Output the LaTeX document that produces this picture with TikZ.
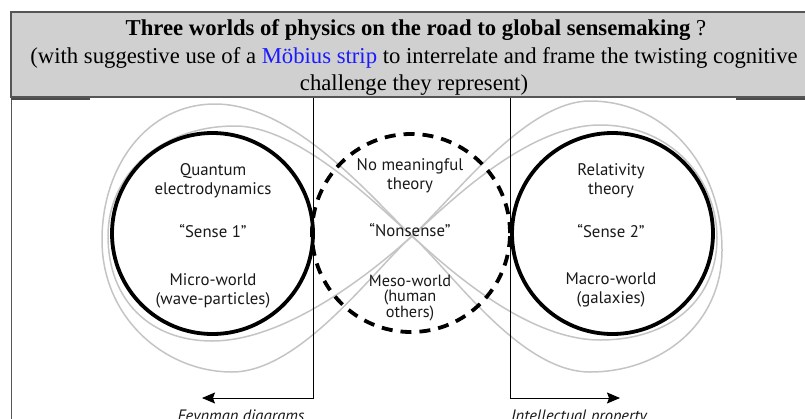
\documentclass[tikz,border=0pt]{standalone}
\usepackage{fontspec}
\setmainfont{Liberation Serif}
\newfontfamily\labfont{PT Sans}
\usetikzlibrary{arrows.meta}
\definecolor{headfill}{HTML}{D0D0D0}
\definecolor{headline}{HTML}{555555}
\definecolor{strandgray}{HTML}{C4C4C4}
\definecolor{linkblue}{HTML}{1A1AFF}
\begin{document}
\begin{tikzpicture}[x=1pt,y=-1pt,
  strand/.style={draw=strandgray, line width=1.5pt},
  world/.style={circle, draw=black, line width=3.8pt, inner sep=0pt, minimum size=201pt},
  mesobox/.style={circle, draw=black, line width=3.8pt, dash pattern=on 11pt off 8pt, inner sep=0pt, minimum size=198pt},
  lbl/.style={font=\labfont\fontsize{16.8}{19}\selectfont, align=center, text=black!90, inner sep=0pt},
  lblsmall/.style={font=\labfont\fontsize{16.3}{15.5}\selectfont, align=center, text=black!90, inner sep=0pt},
  axis/.style={draw=black, line width=0.9pt},
  axisarrow/.style={axis, -{Stealth[length=13pt,width=11pt,inset=2pt]}},
  caption/.style={font=\labfont\itshape\fontsize{16.5}{19}\selectfont, text=black!90, inner sep=0pt, anchor=base},
  titletext/.style={anchor=base, inner sep=0pt, font=\fontsize{22.7}{27}\selectfont}
]
\useasboundingbox (0,0) rectangle (805,418);
\clip (0,0) rectangle (805,418);

% header
\fill[headfill] (11,12) rectangle (830,97);
\draw[headline, line width=1.5pt] (830,12) -- (11,12) -- (11,97) -- (830,97);
\draw[headline, line width=1pt] (11,97) -- (11,430);
\draw[black!70, line width=2pt] (11,98.5) -- (90,98.5);
\draw[black!70, line width=2pt] (736,98.5) -- (830,98.5);

\node[titletext] (t1) at (416,35) {\textbf{Three worlds of physics on the road to global sensemaking} ?};
\node[titletext] (t2) at (414,63) {(with suggestive use of a \textcolor{linkblue}{Möbius strip} to interrelate and frame the twisting cognitive};
\node[titletext] (t3) at (414,90) {challenge they represent)};

% Moebius strands
\coordinate (C) at (412,236);
\path[strand] (C) .. controls (376,203) and (296,104) .. (215,104)
  .. controls (148,104) and (102,165) .. (102,240)
  .. controls (102,318) and (165,372) .. (232,372)
  .. controls (300,372) and (372,272) .. (C)
  .. controls (452,200) and (525,101) .. (590,101)
  .. controls (665,101) and (722,165) .. (722,250)
  .. controls (722,325) and (660,372) .. (590,372)
  .. controls (520,372) and (452,272) .. (C);
\path[strand] (C) .. controls (382,210) and (300,126) .. (235,126)
  .. controls (160,126) and (108,175) .. (108,236)
  .. controls (108,300) and (150,341) .. (212,341)
  .. controls (290,341) and (380,265) .. (C)
  .. controls (444,208) and (525,125) .. (600,125)
  .. controls (672,125) and (717,180) .. (717,238)
  .. controls (717,300) and (670,340) .. (600,340)
  .. controls (525,340) and (444,265) .. (C);

% axes
\coordinate (ltop) at (313,98);
\coordinate (lend) at (202,398);
\coordinate (rtop) at (510,98);
\coordinate (rend) at (620,398);
\draw[axisarrow] (ltop) |- (lend);
\draw[axisarrow] (rtop) |- (rend);

% worlds
\node[world] (micro) at (212.5,233.5) {};
\node[world] (macro) at (612.5,233.5) {};
\node[mesobox] (meso) at (411,233) {};

% texts left
\node[lbl] (qed) at (213,181) {Quantum\\electrodynamics};
\node[lbl] (s1) at (213,231) {“Sense 1”};
\node[lbl] (mw) at (213,291) {Micro-world\\(wave-particles)};
% texts right
\node[lbl] (rel) at (611,181) {Relativity\\theory};
\node[lbl] (s2) at (611,231) {“Sense 2”};
\node[lbl] (maw) at (611,290) {Macro-world\\(galaxies)};
% texts middle
\node[lbl] (nmt) at (410,176) {No meaningful\\theory};
\node[lbl] (ns) at (410,230) {“Nonsense”};
\node[lblsmall] (mes) at (410,298) {Meso-world\\(human\\others)};

% captions
\node[caption] (fey) at (241,421.5) {Feynman diagrams};
\node[caption] (ip) at (579,421.5) {Intellectual property};
\end{tikzpicture}
\end{document}
